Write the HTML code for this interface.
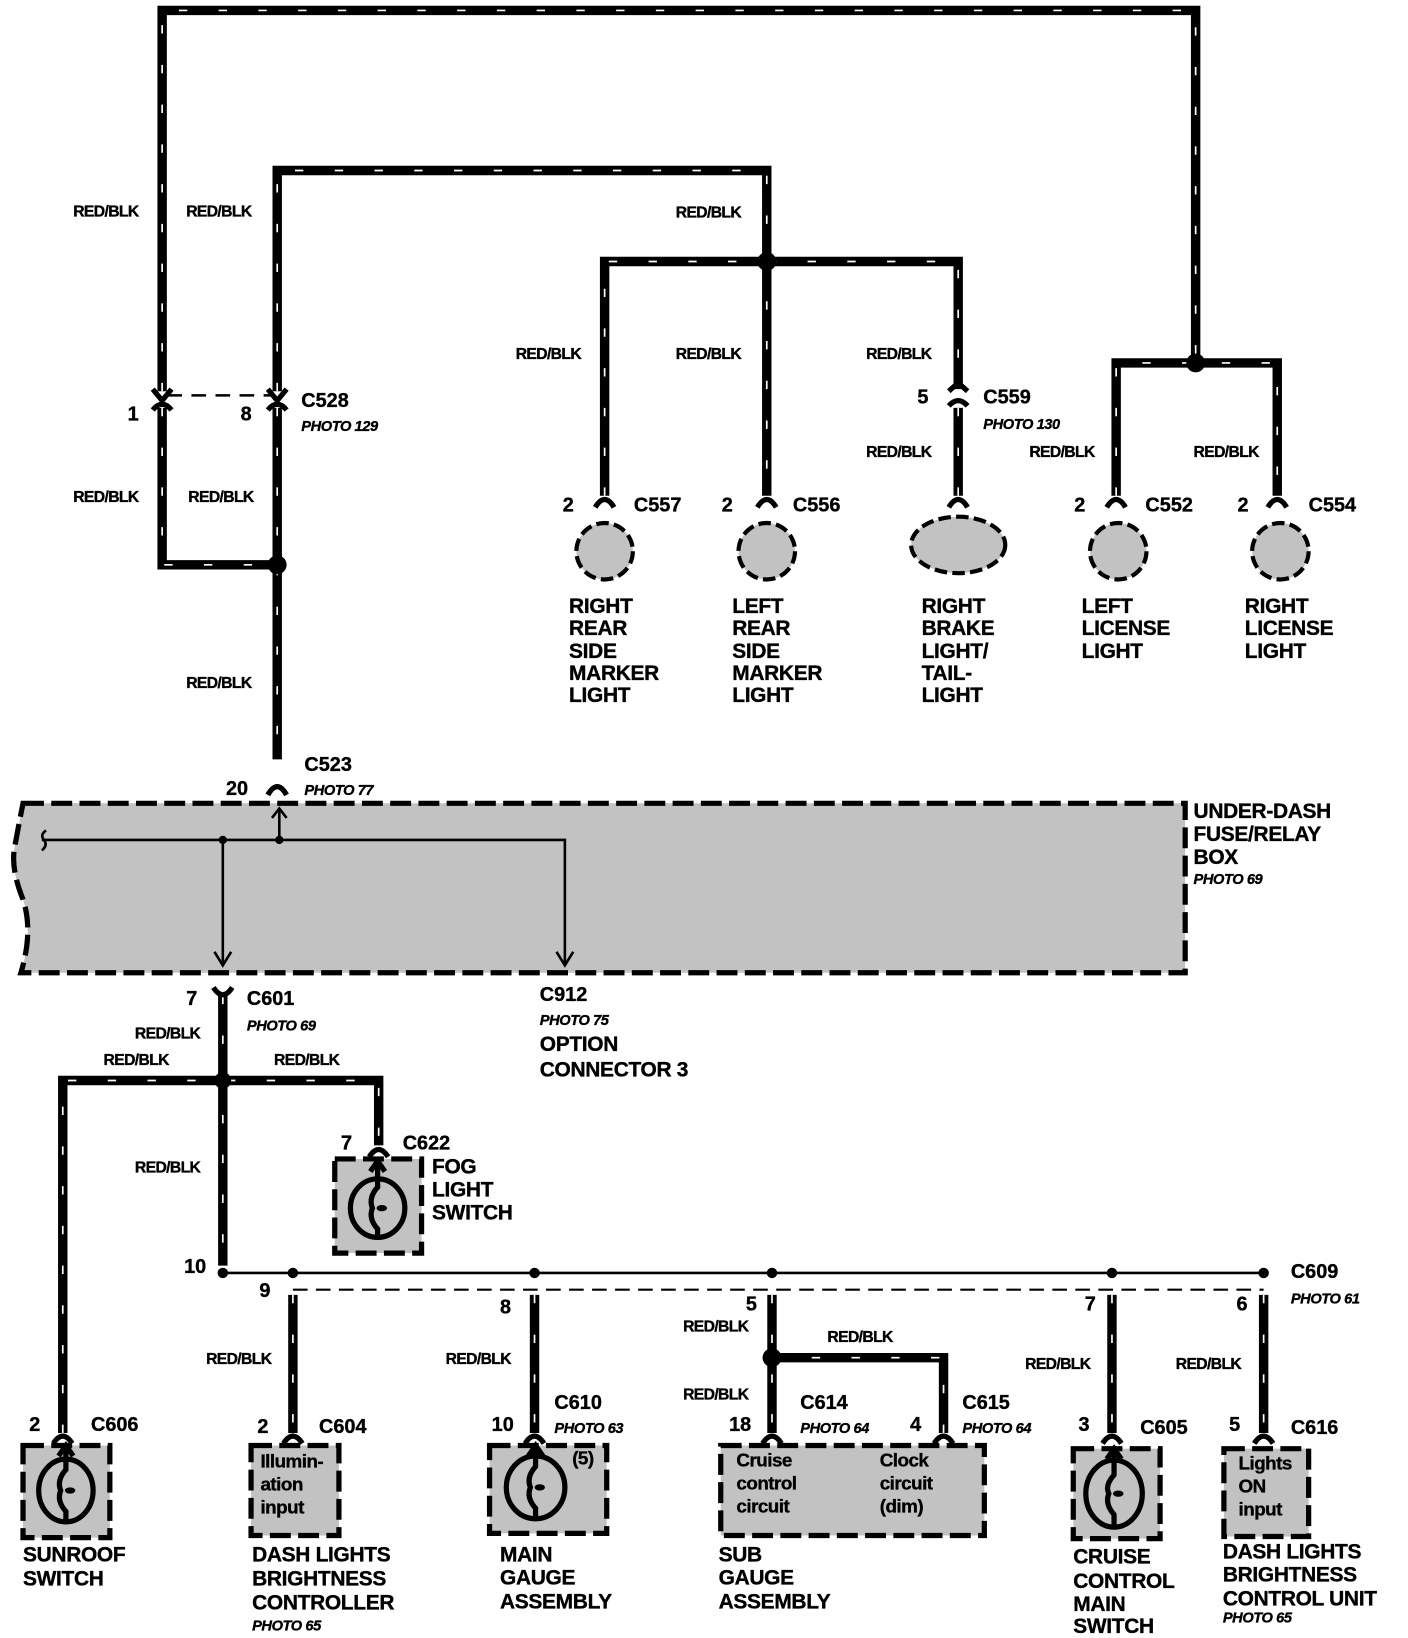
<!DOCTYPE html>
<html><head><meta charset="utf-8"><style>
html,body{margin:0;padding:0;background:#fff}
svg{display:block}
text{font-family:"Liberation Sans",Arial,sans-serif;font-weight:bold;fill:#000;stroke:#000;stroke-width:0.35}
.r{font-size:15px;letter-spacing:-0.6px}
.c{font-size:19px}
.n{font-size:20px;letter-spacing:-0.3px}
.p{font-size:14px;font-style:italic;font-weight:normal;letter-spacing:-0.4px;stroke-width:0.2}
.b{font-size:18px;fill:#000;letter-spacing:-0.5px}
.w{stroke:#000;stroke-width:9;fill:none}
.wd{stroke:#fff;stroke-width:1.6;fill:none;stroke-dasharray:8 30}
.box{fill:#c2c2c2;stroke:#000;stroke-width:5;stroke-dasharray:20 7}
.k{stroke:#000;stroke-width:5;fill:none}
</style></head><body>
<svg width="1408" height="1638" viewBox="0 0 1346 1566" preserveAspectRatio="none" xmlns="http://www.w3.org/2000/svg">
<defs>
<path id="a1" d="M155,374 V10 H1143 V347"/>
<path id="a2" d="M265,374 V163 H733 V250"/>
<path id="a3" d="M578,474 V250 H916 V372"/>
<path id="a4" d="M733,250 V474"/>
<path id="a5" d="M916,390 V474"/>
<path id="a6" d="M1067,474 V347 H1221 V474"/>
<path id="a7" d="M155,390 V540 H265"/>
<path id="a8" d="M265,390 V726"/>
<path id="a9" d="M213,952 V1210"/>
<path id="a10" d="M60,1370 V1033 H362 V1095"/>
<path id="a11" d="M280,1238 V1370"/>
<path id="a12" d="M511,1238 V1370"/>
<path id="a13" d="M738,1238 V1370"/>
<path id="a14" d="M738,1298 H902 V1370"/>
<path id="a15" d="M1063,1238 V1370"/>
<path id="a16" d="M1208,1238 V1370"/>
</defs>
<g class="w"><use href="#a1"/><use href="#a2"/><use href="#a3"/><use href="#a4"/><use href="#a5"/><use href="#a6"/><use href="#a7"/><use href="#a8"/><use href="#a9"/><use href="#a10"/><use href="#a11"/><use href="#a12"/><use href="#a13"/><use href="#a14"/><use href="#a15"/><use href="#a16"/></g>
<g class="wd"><use href="#a1"/><use href="#a2"/><use href="#a3"/><use href="#a4"/><use href="#a5"/><use href="#a6"/><use href="#a7"/><use href="#a8"/><use href="#a9"/><use href="#a10"/><use href="#a11"/><use href="#a12"/><use href="#a13"/><use href="#a14"/><use href="#a15"/><use href="#a16"/></g>
<g fill="#000"><circle cx="733" cy="250" r="9"/><circle cx="1143" cy="347" r="9"/><circle cx="265" cy="540" r="9"/><circle cx="213" cy="1033" r="8"/><circle cx="738" cy="1298" r="9"/></g>

<line x1="160" y1="378" x2="260" y2="378" stroke="#000" stroke-width="2.5" stroke-dasharray="14 9"/>
<g class="k"><path d="M146,372 L155,383 L164,372"/><path d="M146,392 Q155,381 164,392"/><path d="M256,372 L265,383 L274,372"/><path d="M256,392 Q265,381 274,392"/>
<path d="M907,374 L916,366 L925,374"/><path d="M907,388 Q916,378 925,388"/>
<path d="M569,485 Q578,470 587,485"/><path d="M724,485 Q733,470 742,485"/><path d="M907,485 Q916,470 925,485"/><path d="M1058,485 Q1067,470 1076,485"/><path d="M1212,485 Q1221,470 1230,485"/>
<path d="M256,760 Q265,744 274,760"/>
<path d="M204,944 Q213,958 222,944"/>
<path d="M353,1106 Q362,1092 371,1106"/>
<path d="M51,1380 Q60,1366 69,1380"/><path d="M271,1380 Q280,1366 289,1380"/><path d="M502,1380 Q511,1366 520,1380"/><path d="M729,1380 Q738,1366 747,1380"/><path d="M893,1380 Q902,1366 911,1380"/><path d="M1054,1380 Q1063,1366 1072,1380"/><path d="M1199,1380 Q1208,1366 1217,1380"/>
</g>

<g class="box" style="stroke-dasharray:12 5;stroke-width:4">
<circle cx="578" cy="527" r="27"/><circle cx="733" cy="527" r="27"/><ellipse cx="916" cy="521" rx="45" ry="27"/><circle cx="1069" cy="527" r="27"/><circle cx="1224" cy="527" r="27"/>
</g>

<path class="box" d="M22,768 H1133 V930 H20 Q32,890 22,860 Q10,830 14,810 Q18,788 22,768 Z"/>
<g stroke="#000" stroke-width="2.5" fill="none">
<path d="M40,803 H540 V922"/><path d="M213,803 V922"/><path d="M267,803 V773"/>
<path d="M205,910 L213,923 L221,910"/><path d="M532,910 L540,923 L548,910"/><path d="M260,782 L267,773 L274,782"/>
<path d="M44,794 Q38,798 42,803 Q46,808 40,813"/>
</g>
<circle cx="213" cy="803" r="4"/><circle cx="267" cy="803" r="4"/>

<line x1="213" y1="1217" x2="1208" y2="1217" stroke="#000" stroke-width="2.5"/>
<line x1="280" y1="1233" x2="1208" y2="1233" stroke="#000" stroke-width="2" stroke-dasharray="14 8"/>
<g fill="#000"><circle cx="280" cy="1217" r="5"/><circle cx="511" cy="1217" r="5"/><circle cx="738" cy="1217" r="5"/><circle cx="1063" cy="1217" r="5"/><circle cx="1208" cy="1217" r="5"/><circle cx="213" cy="1217" r="5"/></g>

<rect class="box" x="320" y="1108" width="83" height="90"/>
<rect class="box" x="22" y="1382" width="83" height="88"/>
<rect class="box" x="240" y="1382" width="84" height="86"/>
<rect class="box" x="468" y="1382" width="112" height="84"/>
<rect class="box" x="689" y="1382" width="252" height="86"/>
<rect class="box" x="1026" y="1385" width="83" height="86"/>
<rect class="box" x="1170" y="1385" width="81" height="84"/>
<g class="k">
<ellipse cx="361" cy="1155" rx="26" ry="28"/><path d="M361,1112 V1135 Q352,1145 356,1155 Q352,1165 361,1175 V1183"/><path d="M354,1120 L361,1110 L368,1120"/>
<ellipse cx="63" cy="1425" rx="26" ry="30"/><path d="M63,1384 V1405 Q54,1415 58,1425 Q54,1435 63,1445 V1455"/><path d="M56,1392 L63,1382 L70,1392"/>
<ellipse cx="512" cy="1422" rx="28" ry="30"/><path d="M512,1384 V1402 Q503,1412 507,1422 Q503,1432 512,1442 V1452"/><path d="M505,1392 L512,1382 L519,1392"/>
<ellipse cx="1065" cy="1428" rx="27" ry="32"/><path d="M1065,1387 V1410 Q1056,1420 1060,1428 Q1056,1438 1065,1448 V1460"/><path d="M1058,1395 L1065,1385 L1072,1395"/>
</g>
<g fill="#000"><ellipse cx="365" cy="1155" rx="5" ry="3"/><ellipse cx="67" cy="1425" rx="5" ry="3"/><ellipse cx="516" cy="1422" rx="5" ry="3"/><ellipse cx="1069" cy="1428" rx="5" ry="3"/></g>

<g class="r">
<text x="70" y="207">RED/BLK</text><text x="178" y="207">RED/BLK</text><text x="646" y="208">RED/BLK</text>
<text x="493" y="343">RED/BLK</text><text x="646" y="343">RED/BLK</text><text x="828" y="343">RED/BLK</text>
<text x="828" y="437">RED/BLK</text><text x="984" y="437">RED/BLK</text><text x="1141" y="437">RED/BLK</text>
<text x="70" y="480">RED/BLK</text><text x="180" y="480">RED/BLK</text><text x="178" y="658">RED/BLK</text>
<text x="129" y="993">RED/BLK</text><text x="99" y="1018">RED/BLK</text><text x="262" y="1018">RED/BLK</text>
<text x="129" y="1121">RED/BLK</text><text x="197" y="1304">RED/BLK</text><text x="426" y="1304">RED/BLK</text>
<text x="653" y="1273">RED/BLK</text><text x="791" y="1283">RED/BLK</text><text x="653" y="1338">RED/BLK</text>
<text x="980" y="1309">RED/BLK</text><text x="1124" y="1309">RED/BLK</text>
</g>
<g class="c">
<text x="122" y="402">1</text><text x="230" y="402">8</text><text x="288" y="389">C528</text>
<text x="877" y="386">5</text><text x="940" y="386">C559</text>
<text x="538" y="489">2</text><text x="606" y="489">C557</text><text x="690" y="489">2</text><text x="758" y="489">C556</text>
<text x="1027" y="489">2</text><text x="1095" y="489">C552</text><text x="1183" y="489">2</text><text x="1251" y="489">C554</text>
<text x="291" y="737">C523</text><text x="216" y="760">20</text>
<text x="178" y="961">7</text><text x="236" y="961">C601</text><text x="516" y="957">C912</text>
<text x="326" y="1099">7</text><text x="385" y="1099">C622</text>
<text x="176" y="1217">10</text><text x="1234" y="1222">C609</text>
<text x="248" y="1240">9</text><text x="478" y="1256">8</text><text x="713" y="1253">5</text><text x="1037" y="1253">7</text><text x="1182" y="1253">6</text>
<text x="28" y="1368">2</text><text x="87" y="1368">C606</text><text x="246" y="1370">2</text><text x="305" y="1370">C604</text>
<text x="470" y="1368">10</text><text x="530" y="1347">C610</text><text x="697" y="1368">18</text><text x="765" y="1347">C614</text>
<text x="870" y="1368">4</text><text x="920" y="1347">C615</text><text x="1031" y="1368">3</text><text x="1090" y="1371">C605</text>
<text x="1175" y="1368">5</text><text x="1234" y="1371">C616</text>
</g>
<g class="p">
<text x="288" y="412">PHOTO 129</text><text x="940" y="410">PHOTO 130</text><text x="291" y="760">PHOTO 77</text>
<text x="1141" y="845">PHOTO 69</text><text x="236" y="985">PHOTO 69</text><text x="516" y="980">PHOTO 75</text>
<text x="1234" y="1246">PHOTO 61</text><text x="530" y="1370">PHOTO 63</text><text x="765" y="1370">PHOTO 64</text><text x="920" y="1370">PHOTO 64</text>
<text x="241" y="1559">PHOTO 65</text><text x="1169" y="1551">PHOTO 65</text>
</g>
<g class="n">
<text x="544" y="586">RIGHT</text><text x="544" y="607">REAR</text><text x="544" y="629">SIDE</text><text x="544" y="650">MARKER</text><text x="544" y="671">LIGHT</text>
<text x="700" y="586">LEFT</text><text x="700" y="607">REAR</text><text x="700" y="629">SIDE</text><text x="700" y="650">MARKER</text><text x="700" y="671">LIGHT</text>
<text x="881" y="586">RIGHT</text><text x="881" y="607">BRAKE</text><text x="881" y="629">LIGHT/</text><text x="881" y="650">TAIL-</text><text x="881" y="671">LIGHT</text>
<text x="1034" y="586">LEFT</text><text x="1034" y="607">LICENSE</text><text x="1034" y="629">LIGHT</text>
<text x="1190" y="586">RIGHT</text><text x="1190" y="607">LICENSE</text><text x="1190" y="629">LIGHT</text>
<text x="1141" y="782">UNDER-DASH</text><text x="1141" y="804">FUSE/RELAY</text><text x="1141" y="826">BOX</text>
<text x="516" y="1005">OPTION</text><text x="516" y="1029">CONNECTOR 3</text>
<text x="413" y="1122">FOG</text><text x="413" y="1144">LIGHT</text><text x="413" y="1166">SWITCH</text>
<text x="22" y="1493">SUNROOF</text><text x="22" y="1516">SWITCH</text>
<text x="241" y="1493">DASH LIGHTS</text><text x="241" y="1516">BRIGHTNESS</text><text x="241" y="1539">CONTROLLER</text>
<text x="478" y="1493">MAIN</text><text x="478" y="1515">GAUGE</text><text x="478" y="1538">ASSEMBLY</text>
<text x="687" y="1493">SUB</text><text x="687" y="1515">GAUGE</text><text x="687" y="1538">ASSEMBLY</text>
<text x="1026" y="1495">CRUISE</text><text x="1026" y="1518">CONTROL</text><text x="1026" y="1540">MAIN</text><text x="1026" y="1561">SWITCH</text>
<text x="1169" y="1490">DASH LIGHTS</text><text x="1169" y="1512">BRIGHTNESS</text><text x="1169" y="1535">CONTROL UNIT</text>
</g>
<g class="b">
<text x="249" y="1403">Illumin-</text><text x="249" y="1425">ation</text><text x="249" y="1447">input</text>
<text x="547" y="1400">(5)</text>
<text x="704" y="1402">Cruise</text><text x="704" y="1424">control</text><text x="704" y="1446">circuit</text>
<text x="841" y="1402">Clock</text><text x="841" y="1424">circuit</text><text x="841" y="1446">(dim)</text>
<text x="1184" y="1405">Lights</text><text x="1184" y="1427">ON</text><text x="1184" y="1449">input</text>
</g>
</svg>
</body></html>
